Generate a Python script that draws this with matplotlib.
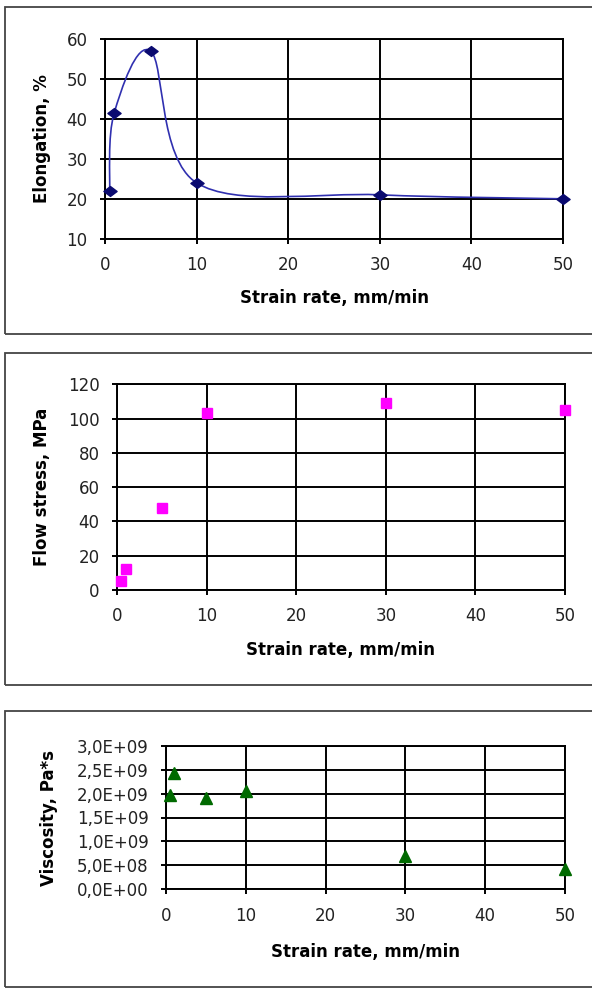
import numpy as np
import matplotlib
matplotlib.use("Agg")
import matplotlib.pyplot as plt
from matplotlib.path import Path
from matplotlib.patches import PathPatch, Rectangle

# data
rate = [0.5, 1, 5, 10, 30, 50]
elongation = [22, 41.5, 57, 24, 21, 20]
flow_stress = [5, 12, 48, 103, 109, 105]
visc_rate = [0.5, 1, 5, 10, 30, 50]
viscosity = [1.98e9, 2.42e9, 1.91e9, 2.06e9, 0.7e9, 0.42e9]

x_ticks = [0, 10, 20, 30, 40, 50]
elong_ticks = [10, 20, 30, 40, 50, 60]
stress_ticks = [0, 20, 40, 60, 80, 100, 120]
visc_ticks = [0, 0.5e9, 1.0e9, 1.5e9, 2.0e9, 2.5e9, 3.0e9]
visc_labels = ["0,0E+00", "5,0E+08", "1,0E+09", "1,5E+09", "2,0E+09", "2,5E+09", "3,0E+09"]

W, H = 592, 989
plt.rcParams['font.family'] = ['DejaVu Sans']
fig = plt.figure(figsize=(W / 100, H / 100), dpi=100)


def fbox(l, r, t, b):
    # pixel box -> figure fraction
    return [l / W, 1 - b / H, (r - l) / W, (b - t) / H]


def frame(t, b):
    fig.patches.append(Rectangle((5 / W, 1 - b / H), 1.0, (b - t) / H, transform=fig.transFigure,
                                 fill=False, edgecolor='#444444', lw=1.3))


def style(ax, ylabel, ycoord, lpad):
    ax.set_xlim(0, 50)
    ax.set_xticks(x_ticks)
    ax.grid(True, color='black', lw=1.4)
    ax.set_axisbelow(True)
    for s in ax.spines.values():
        s.set_color('black')
        s.set_linewidth(1.4)
    ax.tick_params(direction='out', length=3.5, width=1.4, labelsize=12, labelcolor='#222222', pad=9)
    ax.set_xlabel("Strain rate, mm/min", fontsize=12, fontweight='bold', labelpad=lpad)
    ax.set_ylabel(ylabel, fontsize=12, fontweight='bold')
    ax.yaxis.set_label_coords(ycoord, 0.5)


def smooth_path(xs, ys):
    # excel-like smoothed line: bezier with catmull-rom control points
    pts = np.column_stack([xs, ys]).astype(float)
    verts = [pts[0]]
    codes = [Path.MOVETO]
    n = len(pts)
    for i in range(n - 1):
        p0 = pts[i - 1] if i > 0 else pts[i]
        p1, p2 = pts[i], pts[i + 1]
        p3 = pts[i + 2] if i + 2 < n else pts[i + 1]
        c1 = p1 + (p2 - p0) / 6
        c2 = p2 - (p3 - p1) / 6
        verts += [c1, c2, p2]
        codes += [Path.CURVE4] * 3
    return Path(verts, codes)


frame(7, 334)
frame(353, 685)
frame(711, 987)

# panel 1
ax1 = fig.add_axes(fbox(105, 563, 39.3, 238.7))
ax1.add_patch(PathPatch(smooth_path(rate, elongation), fill=False, edgecolor='#3030b0', lw=1.2, zorder=3))
diamond = Path([(-1, 0), (0, 0.75), (1, 0), (0, -0.75), (-1, 0)], closed=True)
ax1.plot(rate, elongation, ls='none', marker=diamond, ms=9.5, color='#0a0a70', zorder=4, clip_on=False)
ax1.set_ylim(10, 60)
ax1.set_yticks(elong_ticks)
style(ax1, "Elongation, %", -0.118, 11)

# panel 2
ax2 = fig.add_axes(fbox(117, 565, 384.3, 590))
ax2.plot(rate, flow_stress, ls='none', marker='s', ms=7.5, color='#ff00ff', zorder=4, clip_on=False)
ax2.set_ylim(0, 120)
ax2.set_yticks(stress_ticks)
style(ax2, "Flow stress, MPa", -0.147, 11)

# panel 3
ax3 = fig.add_axes(fbox(166, 565, 745.7, 889.3))
ax3.plot(visc_rate, viscosity, ls='none', marker='^', ms=8.5, color='#006a00', zorder=4, clip_on=False)
ax3.set_ylim(0, 3e9)
ax3.set_yticks(visc_ticks)
ax3.set_yticklabels(visc_labels)
style(ax3, "Viscosity, Pa*s", -0.27, 13)

fig.savefig("out.png", dpi=100)
